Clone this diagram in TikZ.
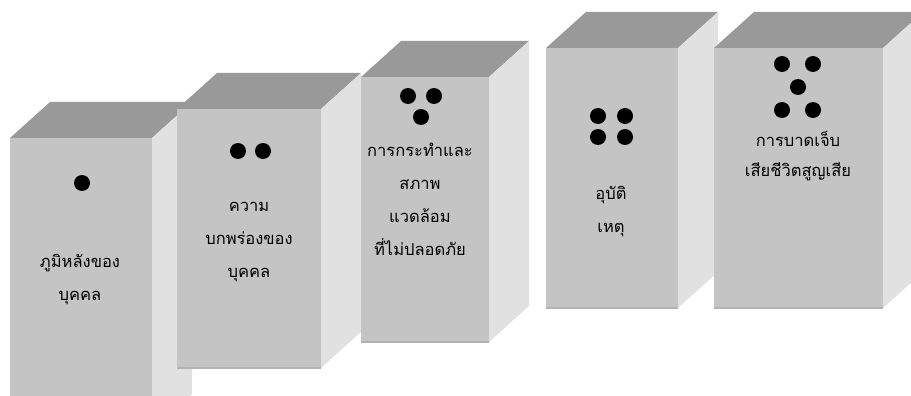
\documentclass[tikz,border=0pt]{standalone}
\usepackage{fontspec}
\newfontfamily\thaifont[Script=Thai]{Loma}
\definecolor{frontgray}{HTML}{C4C4C4}
\definecolor{topgray}{HTML}{999999}
\definecolor{sidegray}{HTML}{E1E1E1}
\definecolor{edgegray}{HTML}{B2B2B2}
\begin{document}
\begin{tikzpicture}[x=1pt,y=-1pt]
  \tikzstyle{pip}=[circle,fill=black,minimum size=16pt,inner sep=0pt]
  \tikzstyle{blocktext}=[align=center,inner sep=0pt,font=\thaifont\fontsize{16.5}{33}\selectfont]
  \useasboundingbox (0,0) rectangle (911,396);
  \clip (0,0) rectangle (911,396);
  % blocks: front face left/top/right/bottom
  \foreach \l/\t/\r/\b in {10/138/152/430, 177/109/321/368, 361/77/489/342, 546/48/678/308, 714/48/883/308}{
    \fill[topgray] (\l,\t) -- ++(40,-36) -- (\r+40,\t-36) -- (\r,\t) -- cycle;
    \fill[sidegray] (\r,\t) -- ++(40,-36) -- (\r+40,\b-36) -- (\r,\b) -- cycle;
    \fill[frontgray] (\l,\t) rectangle (\r,\b);
    \draw[edgegray,line width=1.5pt] (\l,\b) -- (\r,\b);
  }
  % pips
  \node[pip] (p1) at (82,183) {};
  \node[pip] (p2a) at (238,151) {};
  \node[pip] (p2b) at (263,151) {};
  \node[pip] (p3a) at (408,96) {};
  \node[pip] (p3b) at (434,96) {};
  \node[pip] (p3c) at (421,117) {};
  \node[pip] (p4a) at (598,116) {};
  \node[pip] (p4b) at (625,116) {};
  \node[pip] (p4c) at (598,137) {};
  \node[pip] (p4d) at (625,137) {};
  \node[pip] (p5a) at (782,64) {};
  \node[pip] (p5b) at (813,64) {};
  \node[pip] (p5c) at (798,87) {};
  \node[pip] (p5d) at (782,110) {};
  \node[pip] (p5e) at (813,110) {};
  % texts
  \node[blocktext] (background) at (80,280) {ภูมิหลังของ\\บุคคล};
  \node[blocktext] (fault) at (249,242) {ความ\\บกพร่องของ\\บุคคล};
  \node[blocktext] (unsafe) at (420,199) {การกระทำและ\\สภาพ\\แวดล้อม\\ที่ไม่ปลอดภัย};
  \node[blocktext] (accident) at (611,212) {อุบัติ\\เหตุ};
  \node[blocktext] (injury) at (798,156) {การบาดเจ็บ\\[-3pt]เสียชีวิตสูญเสีย};
\end{tikzpicture}
\end{document}
